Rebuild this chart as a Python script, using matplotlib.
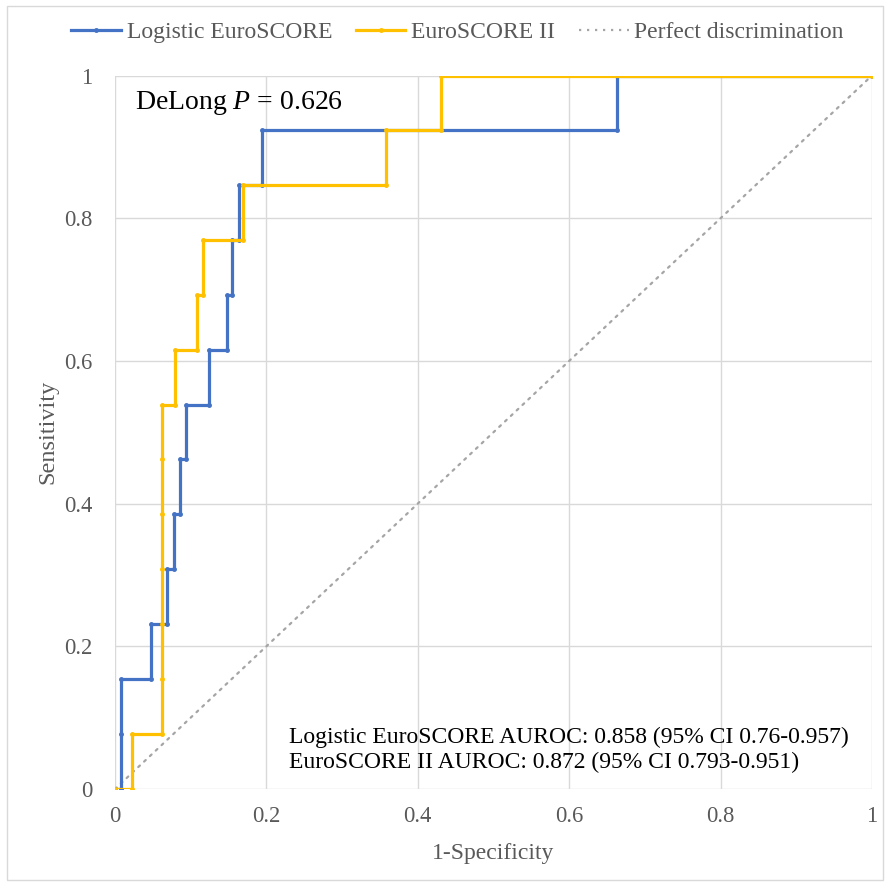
import matplotlib
matplotlib.use("Agg")
import matplotlib.pyplot as plt
from matplotlib.lines import Line2D
from matplotlib.patches import Rectangle

# ROC step vertices (1-specificity, sensitivity)
logistic_fpr = [0, 0.008, 0.008, 0.008, 0.047, 0.047, 0.069, 0.069, 0.078, 0.078,
                0.0863, 0.0863, 0.0938, 0.0938, 0.1246, 0.1246, 0.148, 0.148,
                0.155, 0.155, 0.164, 0.164, 0.1937, 0.1937, 0.6635, 0.6635, 1.0]
logistic_tpr = [0, 0, 0.077, 0.154, 0.154, 0.231, 0.231, 0.308, 0.308, 0.385,
                0.385, 0.462, 0.462, 0.538, 0.538, 0.615, 0.615, 0.692,
                0.692, 0.769, 0.769, 0.846, 0.846, 0.923, 0.923, 1.0, 1.0]

es2_fpr = [0, 0.023, 0.023, 0.0625, 0.0625, 0.0625, 0.0625, 0.0625, 0.0625, 0.0625,
           0.079, 0.079, 0.1088, 0.1088, 0.1158, 0.1158, 0.1695, 0.1695,
           0.3576, 0.3576, 0.430, 0.430, 1.0]
es2_tpr = [0, 0, 0.077, 0.077, 0.154, 0.231, 0.308, 0.385, 0.462, 0.538,
           0.538, 0.615, 0.615, 0.692, 0.692, 0.769, 0.769, 0.846,
           0.846, 0.923, 0.923, 1.0, 1.0]

ref_x = [0, 1]
ref_y = [0, 1]

series_labels = ["Logistic EuroSCORE", "EuroSCORE II", "Perfect discrimination"]
ticks = [0, 0.2, 0.4, 0.6, 0.8, 1]
tick_labels = ["0", "0.2", "0.4", "0.6", "0.8", "1"]

BLUE = "#4472C4"
GOLD = "#FFC000"
GRAY = "#A5A5A5"
GRID = "#D9D9D9"
TXT = "#595959"

plt.rcParams["font.family"] = ["Liberation Serif", "DejaVu Serif"]
plt.rcParams["mathtext.fontset"] = "custom"
plt.rcParams["mathtext.rm"] = "Liberation Serif"
plt.rcParams["mathtext.it"] = "Liberation Serif:italic"

fig = plt.figure(figsize=(8.9, 8.86), dpi=100)
fig.patches.append(Rectangle((0.008, 0.007), 0.984, 0.986, transform=fig.transFigure,
                             fill=False, edgecolor=GRID, lw=1.0))
ax = fig.add_axes([115 / 890, 1 - 789 / 886, (872 - 115) / 890, (789 - 75.5) / 886])

ax.plot(ref_x, ref_y, color=GRAY, lw=1.6, linestyle=(0, (1, 2.6)),
        dash_capstyle="round", zorder=2)
ax.plot(logistic_fpr, logistic_tpr, color=BLUE, lw=2.3, marker="o", markersize=2.5,
        zorder=3)
ax.plot(es2_fpr, es2_tpr, color=GOLD, lw=2.3, marker="o", markersize=2.5, zorder=4)

ax.set_xlim(0, 1)
ax.set_ylim(0, 1)
ax.set_xticks(ticks)
ax.set_xticklabels(tick_labels)
ax.set_yticks(ticks)
ax.set_yticklabels(tick_labels)
ax.grid(True, color=GRID, lw=1.0)
ax.set_axisbelow(True)
for s in ax.spines.values():
    s.set_visible(False)
ax.tick_params(axis="both", length=0, labelsize=16.3, labelcolor=TXT)
ax.tick_params(axis="y", pad=16)
ax.tick_params(axis="x", pad=12)
ax.set_xlabel("1-Specificity", fontsize=17, color=TXT, labelpad=12)
ax.set_ylabel("Sensitivity", fontsize=17.5, color=TXT, labelpad=4)

ax.text(0.026, 0.961, "DeLong $\\mathit{P}$ = 0.626", fontsize=20, color="black",
        va="center", ha="left", transform=ax.transData)
ax.text(0.23, 0.073, "Logistic EuroSCORE AUROC: 0.858 (95% CI 0.76-0.957)",
        fontsize=17, color="black", va="center", ha="left")
ax.text(0.23, 0.037, "EuroSCORE II AUROC: 0.872 (95% CI 0.793-0.951)",
        fontsize=17, color="black", va="center", ha="left")

handles = [
    Line2D([0, 0.5, 1], [0, 0, 0], color=BLUE, lw=2.3, marker="o", markersize=2.5,
           markevery=[1]),
    Line2D([0, 0.5, 1], [0, 0, 0], color=GOLD, lw=2.3, marker="o", markersize=2.5,
           markevery=[1]),
    Line2D([0], [0], color=GRAY, lw=1.6, linestyle=(0, (1, 2.6))),
]
fig.legend(handles, series_labels, loc="center", bbox_to_anchor=(457.5 / 890, 1 - 32 / 886),
           ncol=3, frameon=False, fontsize=17, labelcolor=TXT,
           handlelength=2.1, handletextpad=0.25, columnspacing=1.0)

fig.savefig("out.png", dpi=100)
